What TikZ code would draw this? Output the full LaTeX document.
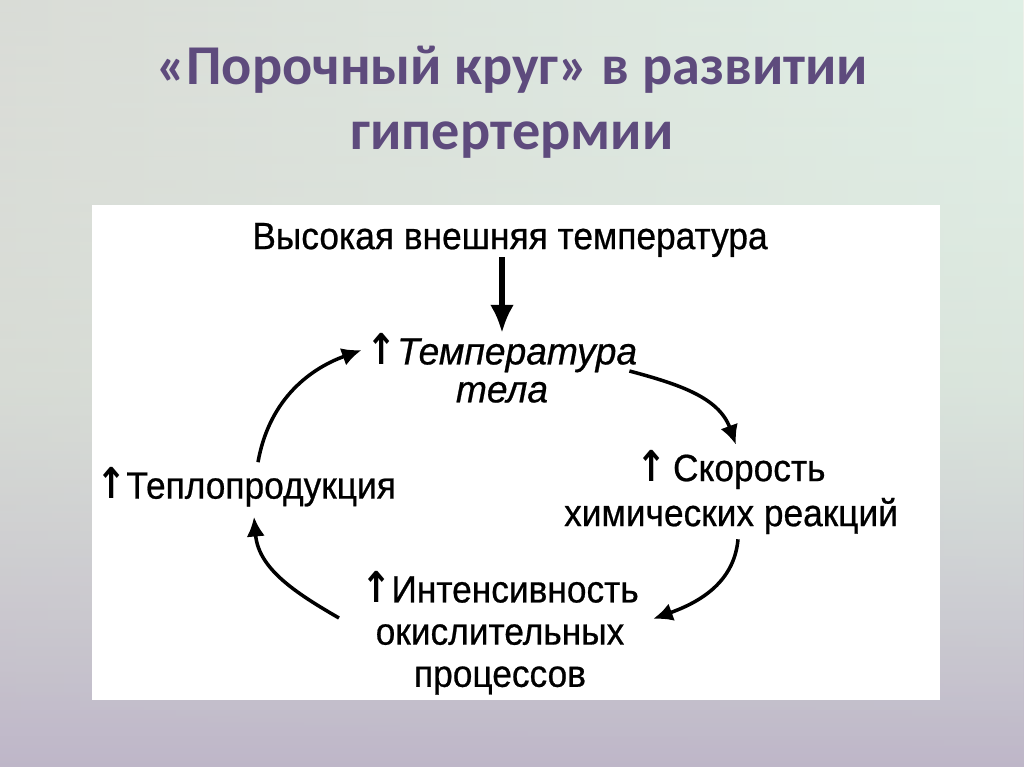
\documentclass[tikz,border=0pt]{standalone}
\usepackage{fontspec}
\usepackage{graphicx}
\setmainfont{Liberation Sans}[FakeStretch=0.93, FakeBold=0.6,
  ItalicFeatures={FakeStretch=0.98, FakeBold=0.6}]
\newfontfamily\titlefont{Carlito}
\newfontfamily\arrowfont{DejaVu Sans}
\usetikzlibrary{arrows.meta,calc,fadings}
\definecolor{titlecol}{RGB}{94,75,125}
\definecolor{bgtop}{RGB}{238,241,234}
\definecolor{bgmid}{RGB}{220,225,218}
\definecolor{bgbot}{RGB}{190,182,200}
\definecolor{bgleft}{RGB}{204,206,202}
\definecolor{bgright}{RGB}{214,238,226}
\tikzfading[name=fadedown, top color=transparent!0, bottom color=transparent!100]
\newcommand\incr{\scalebox{0.95}[1.12]{\arrowfont\bfseries ↑}}
\begin{document}
\begin{tikzpicture}[x=0.025cm,y=0.025cm]
\tikzset{lbl/.style  = {inner sep      = 0pt,
                        align          = center,
                        font           = \fontsize{27}{33}\selectfont},
         link/.style = {line width     = 2.5pt,
                        -{Latex[length=14pt,width=13pt]}}}
% background
\shade[top color=bgtop, bottom color=bgbot, middle color=bgmid] (0,0) rectangle (1024,767);
\shade[left color=bgleft, right color=bgright, fill opacity=0.6, path fading=fadedown] (0,0) rectangle (1024,767);
\useasboundingbox (0,0) rectangle (1024,767);
\node[font=\titlefont\bfseries\fontsize{40}{46}\selectfont, text=titlecol, align=center] (title) at (512,665)
  {«Порочный круг» в развитии\\гипертермии};
\fill[white] (92,67) rectangle (940,562);
% labels
\node[lbl] (ext)   at (510,527) {Высокая внешняя температура};
\node[lbl, font=\itshape\fontsize{27}{27}\selectfont] (temp) at (502,399) {\incr Температура\\тела};
\node[lbl, font=\fontsize{27}{32}\selectfont] (speed) at (731,275) {\incr\,Скорость\\химических реакций};
\node[lbl, font=\fontsize{27}{30}\selectfont] (oxid)  at (500,134) {\incr Интенсивность\\окислительных\\процессов};
\node[lbl] (heat)  at (246,280) {\incr Теплопродукция};
% links
\draw[line width=3.6pt, -{Latex[length=20pt,width=17pt]}] (ext.south -| temp.north) -- (temp.north);
\draw[link] ($(heat.north)+(12,5)$) to[out=80, in=200] ($(temp.west)+(-5,18)$);
\draw[link] ($(temp.east)+(-8,-3)$) to[out=-15, in=110] ($(speed.north)+(5,5)$);
\draw[link] ($(speed.south)+(7,-5)$) to[out=-95, in=20] ($(oxid.east)+(14,14)$);
\draw[link] ($(oxid.west)+(-22,15)$) to[out=150, in=-85] ($(heat.south)+(8,-10)$);
\end{tikzpicture}
\end{document}
